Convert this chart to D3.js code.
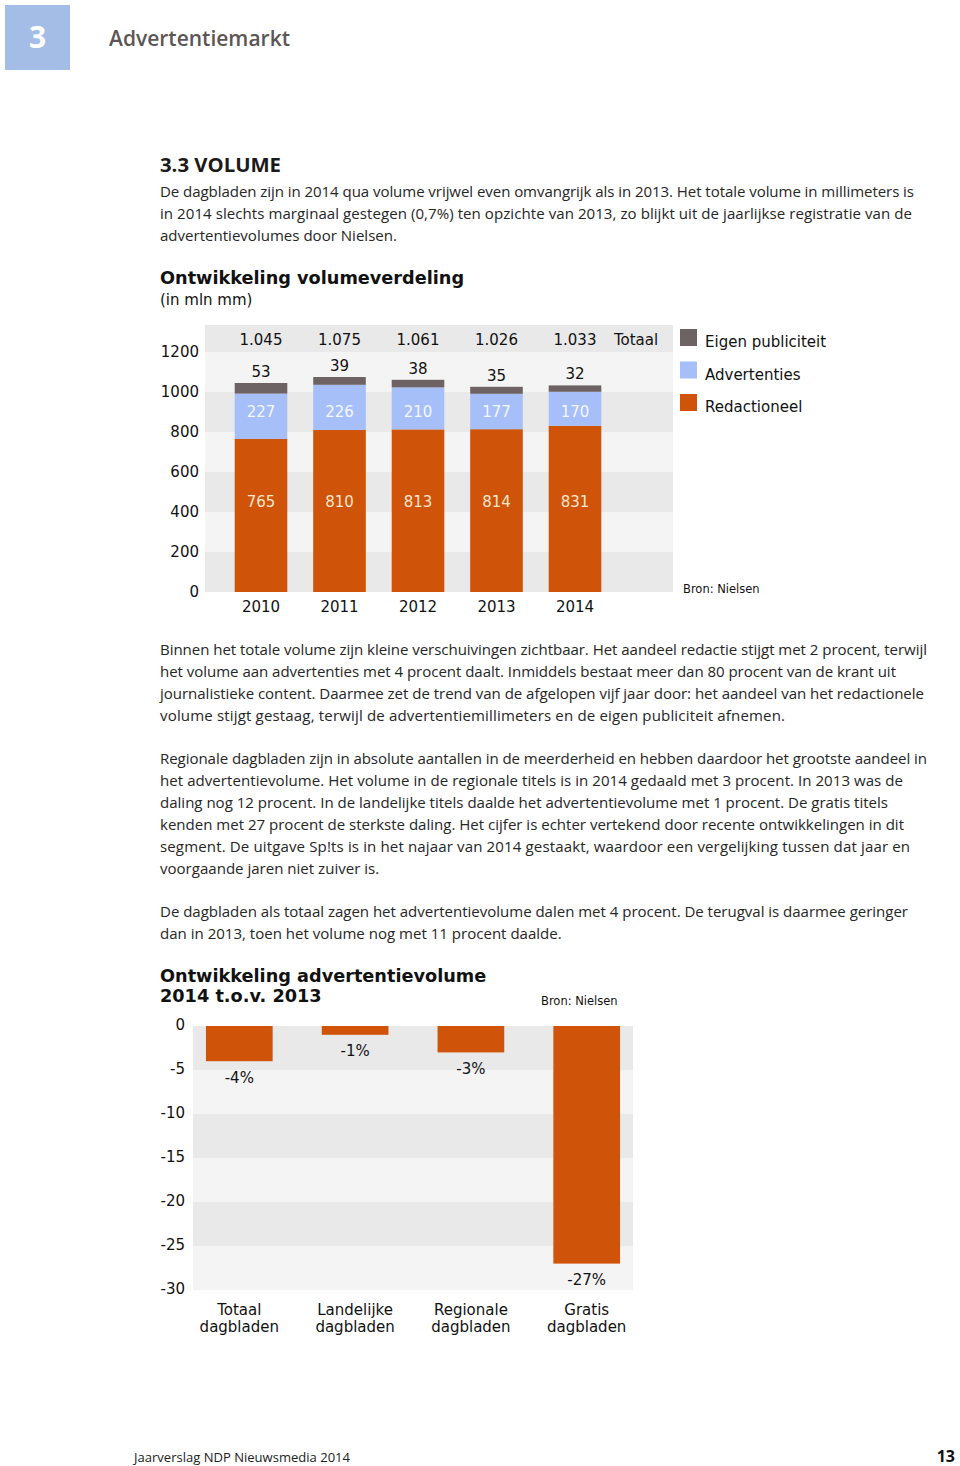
<!DOCTYPE html>
<html>
<head>
<meta charset="utf-8">
<script src="https://cdn.jsdelivr.net/npm/d3@7"></script>
<style>
  html, body { margin: 0; padding: 0; background: #fff; }
  svg { display: block; }
</style>
</head>
<body>
<script>
// ---------------- DATA ----------------
const years = ["2010", "2011", "2012", "2013", "2014"];
const redactioneel = [765, 810, 813, 814, 831];
const advertenties = [227, 226, 210, 177, 170];
const eigenPubliciteit = [53, 39, 38, 35, 32];
const yTicks1 = [0, 200, 400, 600, 800, 1000, 1200];
const legendLabels = ["Eigen publiciteit", "Advertenties", "Redactioneel"];

const categories2 = [["Totaal", "dagbladen"], ["Landelijke", "dagbladen"], ["Regionale", "dagbladen"], ["Gratis", "dagbladen"]];
const change2014 = [-4, -1, -3, -27];
const yTicks2 = [0, -5, -10, -15, -20, -25, -30];

const para1 = [
  "De dagbladen zijn in 2014 qua volume vrijwel even omvangrijk als in 2013. Het totale volume in millimeters is",
  "in 2014 slechts marginaal gestegen (0,7%) ten opzichte van 2013, zo blijkt uit de jaarlijkse registratie van de",
  "advertentievolumes door Nielsen."
];
const para2 = [
  "Binnen het totale volume zijn kleine verschuivingen zichtbaar. Het aandeel redactie stijgt met 2 procent, terwijl",
  "het volume aan advertenties met 4 procent daalt. Inmiddels bestaat meer dan 80 procent van de krant uit",
  "journalistieke content. Daarmee zet de trend van de afgelopen vijf jaar door: het aandeel van het redactionele",
  "volume stijgt gestaag, terwijl de advertentiemillimeters en de eigen publiciteit afnemen."
];
const para3 = [
  "Regionale dagbladen zijn in absolute aantallen in de meerderheid en hebben daardoor het grootste aandeel in",
  "het advertentievolume. Het volume in de regionale titels is in 2014 gedaald met 3 procent. In 2013 was de",
  "daling nog 12 procent. In de landelijke titels daalde het advertentievolume met 1 procent. De gratis titels",
  "kenden met 27 procent de sterkste daling. Het cijfer is echter vertekend door recente ontwikkelingen in dit",
  "segment. De uitgave Sp!ts is in het najaar van 2014 gestaakt, waardoor een vergelijking tussen dat jaar en",
  "voorgaande jaren niet zuiver is."
];
const para4 = [
  "De dagbladen als totaal zagen het advertentievolume dalen met 4 procent. De terugval is daarmee geringer",
  "dan in 2013, toen het volume nog met 11 procent daalde."
];

// ---------------- LAYOUT ----------------
const W = 960, H = 1466;
const C_ORANGE = "#cf5309", C_BLUE = "#a6bff8", C_GREY = "#6e6364";
const C_BAND_D = "#e9e9e9", C_BAND_L = "#f4f4f4";
const CHART_FONT = "'DejaVu Sans', Verdana, sans-serif";
const BODY_FONT = "'Open Sans', 'Noto Sans', sans-serif";
const DY = "0.4em";

const svg = d3.select("body").append("svg").attr("width", W).attr("height", H);
svg.append("rect").attr("width", W).attr("height", H).attr("fill", "#fff");

// Header
svg.append("rect").attr("x", 5).attr("y", 5).attr("width", 65).attr("height", 65).attr("fill", "#a4bde6");
svg.append("text").attr("x", 37.5).attr("y", 48).attr("text-anchor", "middle")
  .attr("font-family", BODY_FONT).attr("font-weight", 700).attr("font-size", 30).attr("fill", "#fff").text("3");
svg.append("text").attr("x", 109).attr("y", 46).attr("font-family", BODY_FONT).attr("font-weight", 600)
  .attr("font-size", 21).attr("fill", "#5c5657").attr("textLength", 181).attr("lengthAdjust", "spacingAndGlyphs")
  .text("Advertentiemarkt");

svg.append("text").attr("x", 160).attr("y", 172).attr("font-family", BODY_FONT).attr("font-weight", 700)
  .attr("font-size", 19).attr("fill", "#1a1a1a").attr("textLength", 121).attr("lengthAdjust", "spacingAndGlyphs")
  .text("3.3 VOLUME");

// Body paragraphs
const paraSpecs = [
  { lines: para1, y0: 192, ends: [914, 912, null] },
  { lines: para2, y0: 650, ends: [927, 896, 924, 785] },
  { lines: para3, y0: 759, ends: [927, 903, 888, 904, 910, null] },
  { lines: para4, y0: 912, ends: [908, null] }
];
const bodyG = svg.append("g").attr("font-family", BODY_FONT).attr("font-weight", 400).attr("fill", "#262626");
const allLines = [];
paraSpecs.forEach(p => p.lines.forEach((t, i) => {
  const el = bodyG.append("text").attr("x", 160).attr("y", p.y0 + i * 22 + 5).attr("font-size", 15).text(t);
  allLines.push({ el, end: p.ends[i] });
}));
let ratios = allLines.filter(d => d.end).map(d => (d.end - 160) / d.el.node().getComputedTextLength());
const k = d3.mean(ratios);
allLines.forEach(d => {
  d.el.attr("font-size", 15 * k);
  if (d.end) d.el.attr("textLength", d.end - 160).attr("lengthAdjust", "spacing");
});

// ---------------- CHART 1 ----------------
const nl = d3.formatLocale({ decimal: ",", thousands: ".", grouping: [3], currency: ["€", ""] });
const fmtTotal = nl.format(",d");

svg.append("text").attr("x", 160).attr("y", 284).attr("font-family", CHART_FONT).attr("font-weight", 700)
  .attr("font-size", 17.7).attr("fill", "#111").text("Ontwikkeling volumeverdeling");
svg.append("text").attr("x", 160).attr("y", 305).attr("font-family", CHART_FONT)
  .attr("font-size", 15).attr("fill", "#111").text("(in mln mm)");

const p1 = { left: 205, right: 673 };
const y1 = d3.scaleLinear().domain([0, 1335]).range([592, 325]);
const x1 = d3.scaleBand().domain(years).range([221.75, 614.25]).paddingInner(0.33).paddingOuter(0.165);

const g1 = svg.append("g").attr("font-family", CHART_FONT);
// bands
const bandStarts1 = d3.range(0, 1335, 200);
g1.selectAll("rect.band").data(bandStarts1).join("rect")
  .attr("x", p1.left).attr("width", p1.right - p1.left)
  .attr("y", d => y1(Math.min(d + 200, 1335))).attr("height", d => y1(d) - y1(Math.min(d + 200, 1335)))
  .attr("fill", (d, i) => i % 2 === 0 ? C_BAND_D : C_BAND_L);

// y axis labels
const ax1 = g1.append("g").attr("transform", `translate(${p1.left},-0.5)`)
  .call(d3.axisLeft(y1).tickValues(yTicks1).tickSize(0).tickPadding(6).tickFormat(d3.format("d")));
ax1.select(".domain").remove();
ax1.selectAll("text").attr("font-family", CHART_FONT).attr("font-size", 15).attr("fill", "#111");

// stacked bars
const rows = years.map((y, i) => ({ year: y, redactioneel: redactioneel[i], advertenties: advertenties[i], eigen: eigenPubliciteit[i] }));
const keys = ["redactioneel", "advertenties", "eigen"];
const colors = { redactioneel: C_ORANGE, advertenties: C_BLUE, eigen: C_GREY };
const stacked = d3.stack().keys(keys)(rows);
g1.selectAll("g.layer").data(stacked).join("g").attr("fill", d => colors[d.key])
  .selectAll("rect").data(d => d).join("rect")
  .attr("x", d => x1(d.data.year)).attr("width", x1.bandwidth())
  .attr("y", d => y1(d[1])).attr("height", d => y1(d[0]) - y1(d[1]));

const cx1 = y => x1(y) + x1.bandwidth() / 2;
// totals
g1.selectAll("text.total").data(rows).join("text")
  .attr("x", d => cx1(d.year)).attr("y", y1(1265)).attr("dy", DY).attr("text-anchor", "middle")
  .attr("font-size", 15).attr("fill", "#111")
  .text(d => fmtTotal(d.redactioneel + d.advertenties + d.eigen));
g1.append("text").attr("x", 636).attr("y", y1(1265)).attr("dy", DY).attr("text-anchor", "middle")
  .attr("font-size", 15).attr("fill", "#111").text("Totaal");
// eigen labels
g1.selectAll("text.eigen").data(rows).join("text")
  .attr("x", d => cx1(d.year)).attr("y", d => y1(d.redactioneel + d.advertenties + d.eigen) - 12)
  .attr("dy", DY).attr("text-anchor", "middle").attr("font-size", 15).attr("fill", "#111")
  .text(d => d.eigen);
// advertenties labels
g1.selectAll("text.adv").data(rows).join("text")
  .attr("x", d => cx1(d.year)).attr("y", y1(905)).attr("dy", DY).attr("text-anchor", "middle")
  .attr("font-size", 15).attr("fill", "#f4f7ff").text(d => d.advertenties);
// redactioneel labels
g1.selectAll("text.red").data(rows).join("text")
  .attr("x", d => cx1(d.year)).attr("y", y1(455)).attr("dy", DY).attr("text-anchor", "middle")
  .attr("font-size", 15).attr("fill", "#fbe6cc").text(d => d.redactioneel);
// x labels
g1.selectAll("text.year").data(years).join("text")
  .attr("x", d => cx1(d)).attr("y", 606).attr("dy", DY).attr("text-anchor", "middle")
  .attr("font-size", 15).attr("fill", "#111").text(d => d);

// legend
const legendColors = [C_GREY, C_BLUE, C_ORANGE];
const lg = g1.selectAll("g.leg").data(legendLabels).join("g")
  .attr("transform", (d, i) => `translate(680,${329 + i * 32.5})`);
lg.append("rect").attr("width", 17).attr("height", 17).attr("fill", (d, i) => legendColors[i]);
lg.append("text").attr("x", 25).attr("y", 12).attr("dy", DY).attr("font-size", 15).attr("fill", "#111").text(d => d);

g1.append("text").attr("x", 683).attr("y", 588).attr("dy", DY).attr("font-size", 11.5)
  .attr("fill", "#111").text("Bron: Nielsen");

// ---------------- CHART 2 ----------------
svg.append("text").attr("x", 160).attr("y", 982).attr("font-family", CHART_FONT).attr("font-weight", 700)
  .attr("font-size", 17.7).attr("fill", "#111").text("Ontwikkeling advertentievolume");
svg.append("text").attr("x", 160).attr("y", 1002).attr("font-family", CHART_FONT).attr("font-weight", 700)
  .attr("font-size", 17.7).attr("fill", "#111").text("2014 t.o.v. 2013");

const p2 = { left: 193, right: 633 };
const y2 = d3.scaleLinear().domain([-30, 0]).range([1290, 1026]);
const x2 = d3.scaleBand().domain(categories2.map(d => d.join(" "))).range([181.4, 644.6]).paddingInner(0.424).paddingOuter(0.212);
const g2 = svg.append("g").attr("font-family", CHART_FONT);

const bandStarts2 = d3.range(0, -30, -5);
g2.selectAll("rect.band").data(bandStarts2).join("rect")
  .attr("x", p2.left).attr("width", p2.right - p2.left)
  .attr("y", d => y2(d)).attr("height", d => y2(d - 5) - y2(d))
  .attr("fill", (d, i) => i % 2 === 0 ? C_BAND_D : C_BAND_L);

const ax2 = g2.append("g").attr("transform", `translate(${p2.left},-1.5)`)
  .call(d3.axisLeft(y2).tickValues(yTicks2).tickSize(0).tickPadding(8).tickFormat(d => String(d)));
ax2.select(".domain").remove();
ax2.selectAll("text").attr("font-family", CHART_FONT).attr("font-size", 15).attr("fill", "#111");

const rows2 = categories2.map((c, i) => ({ key: c.join(" "), lines: c, v: change2014[i] }));
g2.selectAll("rect.bar").data(rows2).join("rect")
  .attr("x", d => x2(d.key)).attr("width", x2.bandwidth())
  .attr("y", y2(0)).attr("height", d => y2(d.v) - y2(0)).attr("fill", C_ORANGE);
const cx2 = k => x2(k) + x2.bandwidth() / 2;
g2.selectAll("text.val").data(rows2).join("text")
  .attr("x", d => cx2(d.key)).attr("y", d => y2(d.v) + 15.5).attr("dy", DY).attr("text-anchor", "middle")
  .attr("font-size", 15).attr("fill", "#111").text(d => d.v + "%");
const cl = g2.selectAll("text.cat").data(rows2).join("text")
  .attr("text-anchor", "middle").attr("font-size", 15).attr("fill", "#111");
cl.selectAll("tspan").data(d => d.lines.map(l => ({ l, key: d.key }))).join("tspan")
  .attr("x", d => cx2(d.key)).attr("y", (d, i) => 1309 + i * 17).attr("dy", DY).text(d => d.l);

g2.append("text").attr("x", 541).attr("y", 1000).attr("dy", DY).attr("font-size", 11.5)
  .attr("fill", "#111").text("Bron: Nielsen");

// Footer
svg.append("text").attr("x", 134).attr("y", 1462).attr("font-family", BODY_FONT).attr("font-size", 13)
  .attr("fill", "#222").attr("textLength", 216).attr("lengthAdjust", "spacingAndGlyphs")
  .text("Jaarverslag NDP Nieuwsmedia 2014");
svg.append("text").attr("x", 955).attr("y", 1462).attr("text-anchor", "end").attr("font-family", BODY_FONT)
  .attr("font-weight", 700).attr("font-size", 16).attr("fill", "#111").text("13");
</script>
</body>
</html>
